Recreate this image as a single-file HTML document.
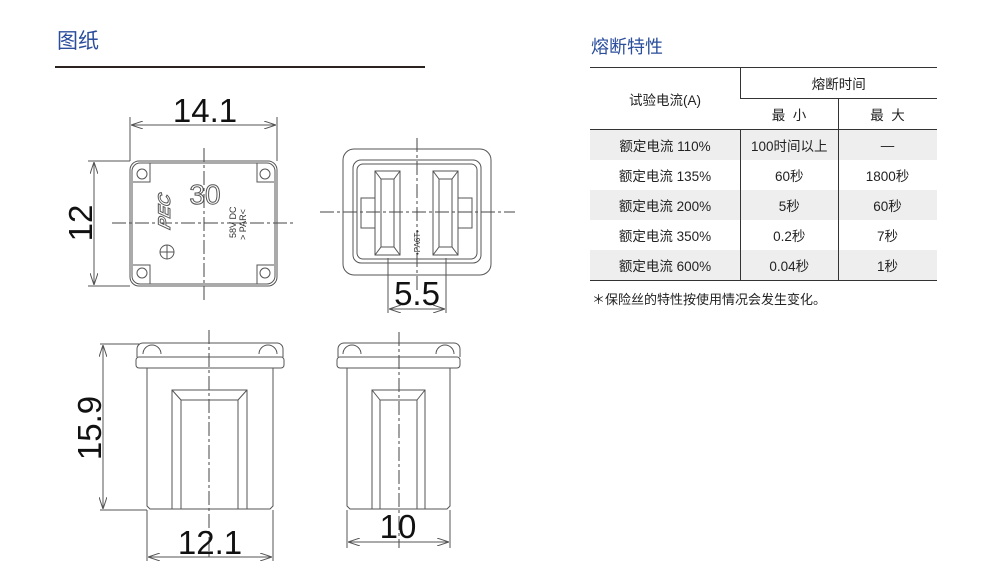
<!DOCTYPE html>
<html><head><meta charset="utf-8"><style>
body{margin:0;width:1000px;height:587px;background:#fff;overflow:hidden;position:relative;font-family:"Liberation Sans","Noto Sans CJK SC",sans-serif}
.t{position:absolute;color:#2a4d9c}
table{position:absolute;left:590px;top:67px;border-collapse:collapse;font-size:13.5px;color:#222}
td{text-align:center;padding:0;height:30px;border-left:1px solid #333}
td:first-child{border-left:none}
tr.g td{background:#eeeeee}
</style></head><body>
<div class="t" style="left:57px;top:25px;font-size:21px">图纸</div>
<div style="position:absolute;left:55px;top:66px;width:370px;height:2px;background:#2b2222"></div>
<div class="t" style="left:591px;top:33px;font-size:18px">熔断特性</div>
<table>
<tr style="border-top:1px solid #333"><td rowspan="2" style="width:150px;border-bottom:1px solid #333">试验电流(A)</td><td colspan="2" style="border-bottom:1px solid #333;height:30px">熔断时间</td></tr>
<tr style="border-bottom:1px solid #333"><td style="width:97px">最&nbsp;&nbsp;小</td><td style="width:98px">最&nbsp;&nbsp;大</td></tr>
<tr class="g"><td>额定电流 110%</td><td>100时间以上</td><td>—</td></tr>
<tr><td>额定电流 135%</td><td>60秒</td><td>1800秒</td></tr>
<tr class="g"><td>额定电流 200%</td><td>5秒</td><td>60秒</td></tr>
<tr><td>额定电流 350%</td><td>0.2秒</td><td>7秒</td></tr>
<tr class="g" style="border-bottom:1px solid #333"><td>额定电流 600%</td><td>0.04秒</td><td>1秒</td></tr>
</table>
<div style="position:absolute;left:592px;top:289px;font-size:13px;color:#222">＊保险丝的特性按使用情况会发生变化。</div>

<svg width="1000" height="587" style="position:absolute;left:0;top:0" fill="none" stroke="#555" stroke-width="1">
<defs><marker id="a" viewBox="0 0 12 8" refX="12" refY="4" markerWidth="12" markerHeight="8" orient="auto-start-reverse" markerUnits="userSpaceOnUse"><path d="M0,0 L12,4 L0,8" stroke="#555" fill="none"/></marker></defs>
<g stroke-dasharray="14,3,3,3" stroke="#444">
<line x1="204" y1="148" x2="204" y2="300"/><line x1="112" y1="223" x2="296" y2="223"/>
<line x1="417" y1="138" x2="417" y2="290"/><line x1="320" y1="212" x2="515" y2="212"/>
<line x1="209" y1="330" x2="209" y2="560"/><line x1="399" y1="332" x2="399" y2="548"/>
</g>
<!-- top view -->
<rect x="130" y="161" width="147" height="125" rx="9"/>
<rect x="132" y="163" width="143" height="121" rx="8"/>
<path d="M133,182 h17 v-19 M274,182 h-17 v-19 M133,265 h17 v19 M274,265 h-17 v19"/>
<circle cx="142" cy="174" r="5"/><circle cx="265" cy="174" r="5"/><circle cx="142" cy="273" r="5"/><circle cx="265" cy="273" r="5"/>
<circle cx="167" cy="252" r="7"/><line x1="160" y1="252" x2="174" y2="252"/><line x1="167" y1="245" x2="167" y2="259"/>
<line x1="130" y1="117" x2="130" y2="161"/><line x1="277" y1="117" x2="277" y2="161"/>
<line x1="131" y1="125" x2="276" y2="125" marker-start="url(#a)" marker-end="url(#a)"/>
<line x1="88" y1="161" x2="130" y2="161"/><line x1="88" y1="286" x2="130" y2="286"/>
<line x1="94" y1="162" x2="94" y2="285" marker-start="url(#a)" marker-end="url(#a)"/>
<!-- end view -->
<rect x="343" y="149" width="148" height="126" rx="11"/>
<rect x="353" y="160" width="128" height="103" rx="8"/>
<rect x="357" y="164" width="120" height="95" rx="6"/>
<rect x="375" y="171" width="25" height="84"/><rect x="433" y="171" width="25" height="84"/>
<path d="M375,171 l6,8 h13 l6,-8 M375,255 l6,-8 h13 l6,8 M381,179 v68 M394,179 v68 M433,171 l6,8 h13 l6,-8 M433,255 l6,-8 h13 l6,8 M439,179 v68 M452,179 v68"/>
<rect x="361" y="198" width="14" height="30"/><rect x="458" y="198" width="14" height="30"/>
<line x1="388" y1="258" x2="388" y2="313"/><line x1="446" y1="258" x2="446" y2="313"/>
<line x1="389" y1="309" x2="445" y2="309" marker-start="url(#a)" marker-end="url(#a)"/>
<!-- bottom left -->
<path d="M137,357 v-8 a6,6 0 0 1 6,-6 h134 a6,6 0 0 1 6,6 v8"/>
<rect x="136" y="357" width="148" height="11" rx="3"/>
<path d="M143,354 a9,9 0 0 1 18,0 M259,354 a9,9 0 0 1 18,0"/>
<path d="M147,368 V506 l3,3 H270 l3,-3 V368"/>
<path d="M172,509 V390 H247 V509 M181,509 V400 H238 V509 M172,390 l9,10 M247,390 l-9,10"/>
<line x1="100" y1="344" x2="140" y2="344"/><line x1="100" y1="510" x2="147" y2="510"/>
<line x1="103" y1="345" x2="103" y2="509" marker-start="url(#a)" marker-end="url(#a)"/>
<line x1="147" y1="510" x2="147" y2="561"/><line x1="273" y1="510" x2="273" y2="561"/>
<line x1="148" y1="557" x2="272" y2="557" marker-start="url(#a)" marker-end="url(#a)"/>
<!-- bottom right -->
<path d="M338,357 v-8 a6,6 0 0 1 6,-6 h110 a6,6 0 0 1 6,6 v8"/>
<rect x="337" y="357" width="123" height="11" rx="3"/>
<path d="M343,354 a9,9 0 0 1 18,0 M436,354 a9,9 0 0 1 18,0"/>
<path d="M347,368 V506 l3,3 H447 l3,-3 V368"/>
<path d="M372,509 V390 H425 V509 M380,509 V400 H417 V509 M372,390 l8,10 M425,390 l-8,10"/>
<line x1="347" y1="510" x2="347" y2="548"/><line x1="450" y1="510" x2="450" y2="548"/>
<line x1="348" y1="542" x2="449" y2="542" marker-start="url(#a)" marker-end="url(#a)"/>
<g fill="#111" stroke="none" font-family="Liberation Sans, sans-serif" font-size="33" text-anchor="middle">
<text x="205" y="122">14.1</text>
<text x="417" y="305">5.5</text>
<text x="210" y="554">12.1</text>
<text x="398" y="538">10</text>
<text transform="translate(92,223) rotate(-90)">12</text>
<text transform="translate(101,428) rotate(-90)">15.9</text>
</g>
<text x="205" y="204" font-size="28" font-family="Liberation Sans" fill="#fff" stroke="#555" text-anchor="middle">30</text>
<text transform="translate(170,230) rotate(-90) skewX(-15)" font-size="17" font-weight="bold" font-style="italic" fill="#fff" stroke="#555" font-family="Liberation Sans">PEC</text>
<g fill="#333" stroke="none" font-size="9" font-family="Liberation Sans">
<text transform="translate(236,238) rotate(-90)">58V DC</text>
<text transform="translate(246,240) rotate(-90)">&gt; PAR&lt;</text>
<text transform="translate(420,255) rotate(-90)" font-size="8">•PA6T•</text>
</g>
</svg>
</body></html>
